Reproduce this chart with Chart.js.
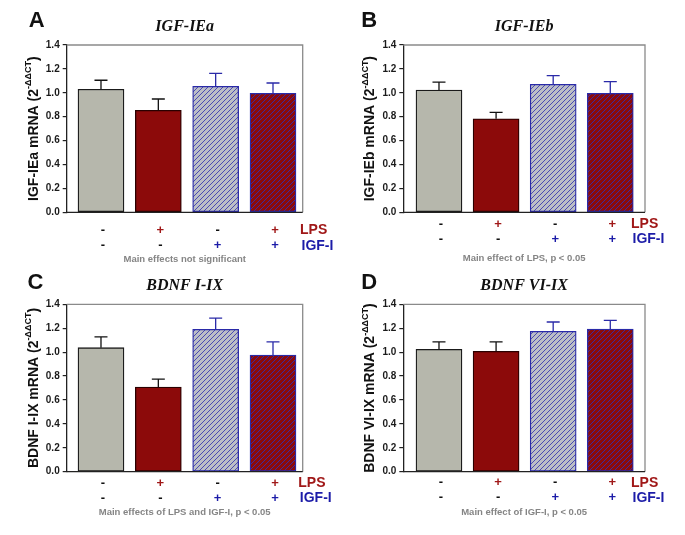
<!DOCTYPE html>
<html>
<head>
<meta charset="utf-8">
<script src="https://cdn.jsdelivr.net/npm/chart.js@4.4.1/dist/chart.umd.min.js"></script>
<style>
  html, body { margin: 0; padding: 0; background: #ffffff; }
  #wrap { position: relative; width: 685px; height: 535px; overflow: hidden; }
  canvas { position: absolute; left: 0; top: 0; }
</style>
</head>
<body>
<div id="wrap">
  <canvas id="cA" width="685" height="535"></canvas>
  <canvas id="cB" width="685" height="535"></canvas>
  <canvas id="cC" width="685" height="535"></canvas>
  <canvas id="cD" width="685" height="535"></canvas>
</div>
<script>
// ---------------- DATA ----------------
const categories = ['Control', 'LPS', 'IGF-I', 'LPS + IGF-I'];
const lpsRow = ['-', '+', '-', '+'];
const igfRow = ['-', '-', '+', '+'];
const rowNames = ['LPS', 'IGF-I'];
const yTickValues = [0.0, 0.2, 0.4, 0.6, 0.8, 1.0, 1.2, 1.4];

const panelLetters = ['A', 'B', 'C', 'D'];
const panelTitles = ['IGF-IEa', 'IGF-IEb', 'BDNF I-IX', 'BDNF VI-IX'];
const yTitles = ['IGF-IEa mRNA', 'IGF-IEb mRNA', 'BDNF I-IX mRNA', 'BDNF VI-IX mRNA'];
const notes = [
  'Main effects not significant',
  'Main effect of LPS, p < 0.05',
  'Main effects of LPS and IGF-I, p < 0.05',
  'Main effect of IGF-I, p < 0.05'
];

const igfIEaMean = [1.03, 0.853, 1.054, 0.996];
const igfIEaSem  = [0.075, 0.095, 0.109, 0.086];
const igfIEbMean = [1.023, 0.783, 1.071, 0.996];
const igfIEbSem  = [0.067, 0.054, 0.072, 0.097];
const bdnfI_IXMean = [1.037, 0.708, 1.191, 0.976];
const bdnfI_IXSem  = [0.090, 0.067, 0.094, 0.109];
const bdnfVI_IXMean = [1.024, 1.007, 1.174, 1.193];
const bdnfVI_IXSem  = [0.061, 0.078, 0.078, 0.073];

const means = [igfIEaMean, igfIEbMean, bdnfI_IXMean, bdnfVI_IXMean];
const sems  = [igfIEaSem, igfIEbSem, bdnfI_IXSem, bdnfVI_IXSem];

// ---------------- LAYOUT / STYLE ----------------
const W = 685, H = 535;
const boxes = [
  { L: 66.7,  R: 302.7, T: 45,    B: 212.3, xmin: -0.598, xmax: 3.518, row1: 17.7, row2: 33.4, note: 47,   lpsX: 300,   letterX: 36.7,  letterY: 21.3 },
  { L: 403.3, R: 645,   T: 45,    B: 212.3, xmin: -0.625, xmax: 3.608, row1: 12,   row2: 27,   note: 46,   lpsX: 631,   letterX: 369.2, letterY: 21.3 },
  { L: 66.7,  R: 302.7, T: 304.3, B: 471.7, xmin: -0.598, xmax: 3.518, row1: 11.6, row2: 26.6, note: 41,   lpsX: 298.3, letterX: 35.5,  letterY: 283.3 },
  { L: 403.3, R: 645,   T: 304.3, B: 471.7, xmin: -0.625, xmax: 3.608, row1: 11,   row2: 26,   note: 40.6, lpsX: 631,   letterX: 369.2, letterY: 283 }
];

const GREY = '#b6b7ac';
const RED = '#8c0a0a';
const BLUE = '#2a2aa8';
const HATCH_BG_GREY = '#bcbec6';
const RED_TXT = '#a01818';
const BLUE_TXT = '#1c1ca8';
const SANS = '"Liberation Sans", Arial, sans-serif';
const SERIF = '"Liberation Serif", "Times New Roman", serif';

function makeHatch(bg, line, lw) {
  const s = 5;
  const c = document.createElement('canvas');
  c.width = s; c.height = s;
  const g = c.getContext('2d');
  g.fillStyle = bg; g.fillRect(0, 0, s, s);
  g.strokeStyle = line; g.lineWidth = lw;
  g.beginPath();
  g.moveTo(-1, s + 1); g.lineTo(s + 1, -1);
  g.moveTo(-1, 1); g.lineTo(1, -1);
  g.moveTo(s - 1, s + 1); g.lineTo(s + 1, s - 1);
  g.stroke();
  return g.createPattern(c, 'repeat');
}

const fills = [GREY, RED, makeHatch(HATCH_BG_GREY, '#3c3cb0', 0.9), makeHatch(RED, '#3a2a9e', 1.0)];
const borders = ['#1a1a1a', '#2a0000', BLUE, BLUE];
const errColors = ['#111111', '#111111', BLUE, BLUE];

const panelPlugin = {
  id: 'panelDecor',
  afterDatasetsDraw(chart, args, opts) {
    const ctx = chart.ctx;
    const p = opts.idx;
    const box = boxes[p];
    const xs = chart.scales.x, ys = chart.scales.y;
    const meta = chart.getDatasetMeta(0);
    ctx.save();
    ctx.lineWidth = 1.3;
    meta.data.forEach((el, i) => {
      const top = ys.getPixelForValue(means[p][i] + sems[p][i]);
      ctx.strokeStyle = errColors[i];
      ctx.beginPath();
      ctx.moveTo(el.x, el.y);
      ctx.lineTo(el.x, top);
      ctx.moveTo(el.x - 6.5, top);
      ctx.lineTo(el.x + 6.5, top);
      ctx.stroke();
    });
    const a = chart.chartArea;
    ctx.lineWidth = 1.3;
    ctx.strokeStyle = '#8a8a8a';
    ctx.beginPath();
    ctx.moveTo(a.left, a.top); ctx.lineTo(a.right, a.top); ctx.lineTo(a.right, a.bottom);
    ctx.stroke();
    ctx.strokeStyle = '#222222';
    ctx.beginPath();
    ctx.moveTo(a.left, a.bottom); ctx.lineTo(a.right, a.bottom);
    ctx.stroke();

    ctx.fillStyle = '#111111';
    ctx.textAlign = 'center'; ctx.textBaseline = 'middle';
    ctx.font = 'bold 22px ' + SANS;
    ctx.fillText(panelLetters[p], box.letterX, box.letterY);
    ctx.font = 'italic bold 16px ' + SERIF;
    ctx.fillText(panelTitles[p], (a.left + a.right) / 2, a.top - 18);

    ctx.save();
    ctx.translate(a.left - 33, (a.top + a.bottom) / 2);
    ctx.rotate(-Math.PI / 2);
    const mainF = 'bold 14px ' + SANS, supF = 'bold 9px ' + SANS;
    const t1 = yTitles[p] + ' (2', t2 = '-\u0394\u0394CT', t3 = ')';
    ctx.font = mainF; const w1 = ctx.measureText(t1).width, w3 = ctx.measureText(t3).width;
    ctx.font = supF; const w2 = ctx.measureText(t2).width;
    let x0 = -(w1 + w2 + w3) / 2;
    ctx.textAlign = 'left'; ctx.textBaseline = 'middle';
    ctx.font = mainF; ctx.fillText(t1, x0, 0);
    ctx.font = supF; ctx.fillText(t2, x0 + w1, -5);
    ctx.font = mainF; ctx.fillText(t3, x0 + w1 + w2, 0);
    ctx.restore();

    ctx.textAlign = 'center'; ctx.textBaseline = 'middle';
    ctx.font = 'bold 13px ' + SANS;
    for (let i = 0; i < categories.length; i++) {
      const x = xs.getPixelForValue(i) + 2;
      ctx.fillStyle = lpsRow[i] === '+' ? RED_TXT : '#111111';
      ctx.fillText(lpsRow[i], x, a.bottom + box.row1);
      ctx.fillStyle = igfRow[i] === '+' ? BLUE_TXT : '#111111';
      ctx.fillText(igfRow[i], x, a.bottom + box.row2);
    }
    ctx.textAlign = 'left';
    ctx.font = 'bold 14px ' + SANS;
    ctx.fillStyle = RED_TXT;
    ctx.fillText(rowNames[0], box.lpsX, a.bottom + box.row1);
    ctx.fillStyle = BLUE_TXT;
    ctx.fillText(rowNames[1], box.lpsX + 1.5, a.bottom + box.row2);

    ctx.textAlign = 'center';
    ctx.font = 'bold 9.5px ' + SANS;
    ctx.fillStyle = '#858585';
    ctx.fillText(notes[p], (a.left + a.right) / 2, a.bottom + box.note);
    ctx.restore();
  }
};

['cA', 'cB', 'cC', 'cD'].forEach((id, p) => {
  const box = boxes[p];
  const yAxisW = 40;
  new Chart(document.getElementById(id), {
    type: 'bar',
    data: {
      labels: categories,
      datasets: [{
        data: means[p].map((v, i) => ({ x: i, y: v })),
        backgroundColor: fills,
        borderColor: borders,
        borderWidth: 1.3,
        borderSkipped: false,
        barThickness: 46
      }]
    },
    options: {
      responsive: false,
      animation: false,
      events: [],
      layout: { padding: { left: box.L - yAxisW, right: W - box.R, top: box.T, bottom: H - box.B } },
      plugins: {
        legend: { display: false },
        tooltip: { enabled: false },
        panelDecor: { idx: p }
      },
      scales: {
        x: { type: 'linear', min: box.xmin, max: box.xmax, display: false, offset: false },
        y: {
          min: 0, max: 1.4,
          afterBuildTicks(scale) { scale.ticks = yTickValues.map(v => ({ value: v })); },
          afterFit(scale) { scale.width = yAxisW; },
          ticks: {
            callback: v => Number(v).toFixed(1),
            font: { family: SANS, size: 10, weight: 'bold' },
            color: '#1a1a1a',
            padding: 3
          },
          grid: { drawOnChartArea: false, drawTicks: true, tickLength: 4, color: '#222222', lineWidth: 1.2 },
          border: { display: true, color: '#222222', width: 1.3 }
        }
      }
    },
    plugins: [panelPlugin]
  });
});
</script>
</body>
</html>
